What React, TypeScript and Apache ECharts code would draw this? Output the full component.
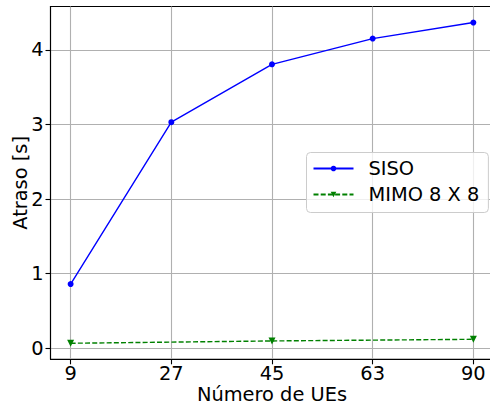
import React, { useEffect, useRef } from "react";
import * as echarts from "echarts";

const categories = ["9", "27", "45", "63", "90"];
const sisoValues = [0.86, 3.03, 3.805, 4.15, 4.365];
const mimoCategories = ["9", "45", "90"];
const mimoValues = [0.067, 0.098, 0.12];
const yTicks = [0, 1, 2, 3, 4];

const FONT = "DejaVu Sans";
const FS = 19.4;

export default function App() {
  const ref = useRef<HTMLDivElement>(null);
  useEffect(() => {
    if (!ref.current) return;
    const chart = echarts.init(ref.current, undefined, { renderer: "svg" });
    const xIdx = categories.map((_, i) => i);
    const sisoData = sisoValues.map((v, i) => [i, v]);
    const mimoData = mimoCategories.map((c, i) => [categories.indexOf(c), mimoValues[i]]);
    chart.setOption({
      animation: false,
      backgroundColor: "#ffffff",
      textStyle: { fontFamily: FONT },
      grid: {
        left: 50.5,
        top: 6.5,
        width: 443,
        height: 352.8,
        containLabel: false,
        outerBoundsMode: "none",
        show: true,
        borderColor: "#000000",
        borderWidth: 1.1,
        backgroundColor: "transparent",
      },
      xAxis: {
        type: "value",
        min: -0.2,
        max: 4.2,
        name: "Número de UEs",
        nameLocation: "middle",
        nameGap: 26,
        nameMoveOverlap: false,
        nameTextStyle: { fontSize: FS, color: "#000", fontFamily: FONT },
        axisLine: { show: true, onZero: false, lineStyle: { color: "#000", width: 1.1 } },
        axisTick: { show: true, customValues: xIdx, length: 5, lineStyle: { color: "#000", width: 1.1 } },
        axisLabel: {
          customValues: xIdx,
          margin: 5,
          fontSize: FS,
          color: "#000",
          fontFamily: FONT,
          formatter: (v: number) => categories[Math.round(v)] ?? "",
        },
        splitLine: { show: true, lineStyle: { color: "#b0b0b0", width: 1.1 } },
      },
      yAxis: {
        type: "value",
        min: -0.148,
        max: 4.58,
        name: "Atraso [s]",
        nameLocation: "middle",
        nameGap: 21,
        nameMoveOverlap: false,
        nameRotate: 90,
        nameTextStyle: { fontSize: FS, color: "#000", fontFamily: FONT },
        axisLine: { show: true, onZero: false, lineStyle: { color: "#000", width: 1.1 } },
        axisTick: { show: true, customValues: yTicks, length: 5, lineStyle: { color: "#000", width: 1.1 } },
        axisLabel: {
          customValues: yTicks,
          margin: 7,
          fontSize: FS,
          color: "#000",
          fontFamily: FONT,
        },
        splitLine: { show: true, lineStyle: { color: "#b0b0b0", width: 1.1 } },
      },
      legend: {
        left: 306.5,
        top: 152.5,
        orient: "vertical",
        padding: [6, 9, 8, 6],
        itemWidth: 40,
        itemHeight: 7,
        itemGap: 6,
        backgroundColor: "rgba(255,255,255,0.8)",
        borderColor: "#cccccc",
        borderWidth: 1,
        borderRadius: 4,
        textStyle: { fontSize: FS, lineHeight: 20, color: "#000", fontFamily: FONT, padding: [0, 0, 0, 10] },
        data: ["SISO", "MIMO 8 X 8"],
      },
      series: [
        {
          name: "SISO",
          type: "line",
          data: sisoData,
          symbol: "circle",
          symbolSize: 6,
          itemStyle: { color: "#0000ff" },
          lineStyle: { color: "#0000ff", width: 1.4 },
        },
        {
          name: "MIMO 8 X 8",
          type: "line",
          data: mimoData,
          symbol: "triangle",
          symbolRotate: 180,
          symbolSize: 7,
          itemStyle: { color: "#008000" },
          lineStyle: { color: "#008000", width: 1.4, type: [5, 2.2] },
        },
      ],
    });
    return () => chart.dispose();
  }, []);
  return <div ref={ref} style={{ position: "absolute", left: 0, top: 0, width: 490, height: 405 }} />;
}
